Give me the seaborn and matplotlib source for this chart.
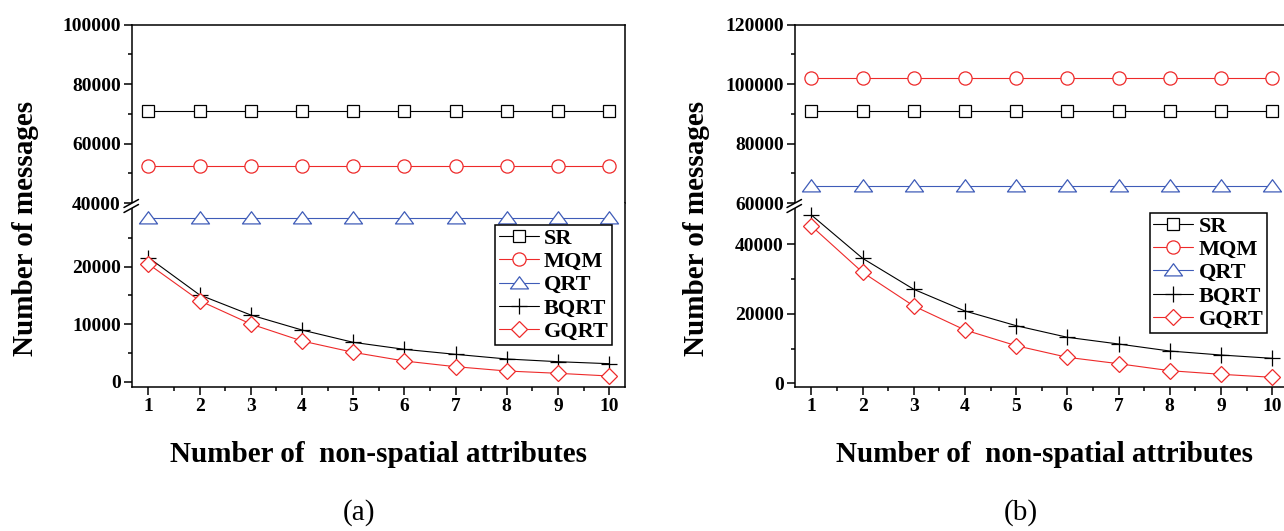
import numpy as np
import pandas as pd
import matplotlib
matplotlib.use('Agg')
import matplotlib.pyplot as plt
import seaborn as sns
from matplotlib.lines import Line2D
from matplotlib.patches import Polygon
from matplotlib.path import Path

# ── Data ──────────────────────────────────────────────────────────────────
n_attrs = [1, 2, 3, 4, 5, 6, 7, 8, 9, 10]
series_names = ['SR', 'MQM', 'QRT', 'BQRT', 'GQRT']

# panel (a)
sr_a   = [71000, 71000, 71000, 71000, 71000, 71000, 71000, 71000, 71000, 71000]
mqm_a  = [52400, 52400, 52400, 52400, 52400, 52400, 52400, 52400, 52400, 52400]
qrt_a  = [28500, 28500, 28500, 28500, 28500, 28500, 28500, 28500, 28500, 28500]
bqrt_a = [21600, 15100, 11600, 8990, 6850, 5630, 4760, 3950, 3480, 3130]
gqrt_a = [20470, 14090, 10030, 7080, 5110, 3600, 2610, 1860, 1460, 990]

# panel (b)
sr_b   = [90900, 90900, 90900, 90900, 90900, 90900, 90900, 90900, 90900, 90900]
mqm_b  = [102200, 102200, 102200, 102200, 102200, 102200, 102200, 102200, 102200, 102200]
qrt_b  = [65800, 65800, 65800, 65800, 65800, 65800, 65800, 65800, 65800, 65800]
bqrt_b = [48430, 35970, 27050, 20810, 16580, 13240, 11310, 9290, 8140, 7190]
gqrt_b = [45270, 31940, 22240, 15340, 10820, 7480, 5640, 3630, 2590, 1730]

# ── Style ─────────────────────────────────────────────────────────────────
sns.set_style('ticks')
plt.rcParams['font.family'] = ['Liberation Serif', 'DejaVu Serif']
plt.rcParams['font.weight'] = 'bold'
plt.rcParams['axes.linewidth'] = 1.1
plt.rcParams['text.color'] = 'black'

RED = '#ee2a2a'
BLUE = '#3f5cb8'
# wide Origin-style triangle
TRI = Path([(-1, -0.6), (1, -0.6), (0, 0.75), (-1, -0.6)], closed=True)
styles = {
    'SR':   dict(color='black', marker='s', markersize=9),
    'MQM':  dict(color=RED,     marker='o', markersize=9.5),
    'QRT':  dict(color=BLUE,    marker=TRI, markersize=13),
    'BQRT': dict(color='black', marker='+', markersize=11),
    'GQRT': dict(color=RED,     marker='D', markersize=8),
}

W, H = 1284, 531
fig = plt.figure(figsize=(W / 100, H / 100), dpi=100)


def px_box(x0, y_top, x1, y_bot):
    # pixel box (y measured from top) -> figure fraction rect
    return [x0 / W, 1 - y_bot / H, (x1 - x0) / W, (y_bot - y_top) / H]


def add_break(ax_lo):
    pos = ax_lo.get_position()
    x0, y0 = pos.x0 * W, pos.y1 * H - 3
    l1 = [(x0 - 8, y0 - 1.5), (x0 + 6.5, y0 + 6.5)]
    l2 = [(x0 - 8, y0 - 6.5), (x0 + 6.5, y0 + 1.5)]
    poly = [l1[0], l1[1], l2[1], l2[0]]
    fig.add_artist(Polygon([(a / W, b / H) for a, b in poly], closed=True,
                           transform=fig.transFigure, facecolor='white',
                           edgecolor='none', zorder=5))
    for ln in (l1, l2):
        fig.add_artist(Line2D([ln[0][0] / W, ln[1][0] / W], [ln[0][1] / H, ln[1][1] / H],
                              transform=fig.transFigure, color='black', lw=1.1, zorder=6))


def draw_panel(x0, data, hi_lim, hi_major, hi_minor, lo_lim, lo_major, lo_minor, leg_anchor):
    ax_hi = fig.add_axes(px_box(x0, 24.7, x0 + 493, 203))
    ax_lo = fig.add_axes(px_box(x0, 203, x0 + 493, 386.7))
    for ax in (ax_hi, ax_lo):
        for name, vals in zip(series_names, data):
            st = styles[name]
            sns.lineplot(x=n_attrs, y=vals, ax=ax, color=st['color'],
                         marker=st['marker'], markersize=st['markersize'],
                         markerfacecolor='white', markeredgecolor=st['color'],
                         markeredgewidth=0.9, linewidth=0.8,
                         label=name if ax is ax_lo else None)
        ax.set_xlim(0.68, 10.31)
        ax.set_xlabel('')
        ax.set_ylabel('')
        ax.tick_params(axis='both', which='major', direction='out', length=5.5,
                       width=1.1, labelsize=14, pad=2.5, colors='black')
        ax.tick_params(axis='both', which='minor', direction='out', length=2.8,
                       width=1.1, colors='black')
        for sp in ax.spines.values():
            sp.set_color('black')
    if ax_hi.get_legend():
        ax_hi.get_legend().remove()

    ax_hi.set_ylim(*hi_lim)
    ax_hi.set_yticks(hi_major)
    ax_hi.set_yticks(hi_minor, minor=True)
    ax_hi.spines['bottom'].set_visible(False)
    ax_hi.tick_params(axis='x', which='both', bottom=False, labelbottom=False)

    ax_lo.set_ylim(*lo_lim)
    ax_lo.set_yticks(lo_major)
    ax_lo.set_yticks(lo_minor, minor=True)
    ax_lo.spines['top'].set_visible(False)
    ax_lo.set_xticks(n_attrs)
    ax_lo.set_xticks([v + 0.5 for v in n_attrs[:-1]], minor=True)

    leg = ax_lo.legend(loc='upper right', bbox_to_anchor=leg_anchor, frameon=True,
                       fancybox=False, edgecolor='black', framealpha=1,
                       prop=dict(family='Liberation Serif', weight='bold', size=16),
                       handlelength=1.8, handletextpad=0.25, labelspacing=0.12,
                       borderpad=0.15, borderaxespad=0)
    leg.get_frame().set_linewidth(1.1)
    for txt in leg.get_texts():
        txt.set_color('black')
    add_break(ax_lo)
    return ax_hi, ax_lo


draw_panel(132, [sr_a, mqm_a, qrt_a, bqrt_a, gqrt_a],
           (40000, 100000), [40000, 60000, 80000, 100000], [50000, 70000, 90000],
           (-870, 31080), [0, 10000, 20000], [5000, 15000, 25000],
           (0.974, 0.88))
draw_panel(795, [sr_b, mqm_b, qrt_b, bqrt_b, gqrt_b],
           (60000, 120000), [60000, 80000, 100000, 120000], [70000, 90000, 110000],
           (-980, 51890), [0, 20000, 40000], [10000, 30000],
           (0.957, 0.946))

# axis titles and panel captions
for cx, ycx, cap_x, cap in [(25.5, 379, 359, '(a)'), (697, 1045, 1021, '(b)')]:
    fig.text(cx / W, 1 - 228 / H, 'Number of messages', rotation=90,
             ha='center', va='center', fontsize=21, fontweight='bold', color='black')
    fig.text(ycx / W, 1 - 455 / H, 'Number of  non-spatial attributes',
             ha='center', va='center', fontsize=21, fontweight='bold', color='black')
    fig.text(cap_x / W, 1 - 513 / H, cap, ha='center', va='center',
             fontsize=21, fontweight='normal', color='black')

fig.savefig('out.png', dpi=100)
plt.close(fig)
